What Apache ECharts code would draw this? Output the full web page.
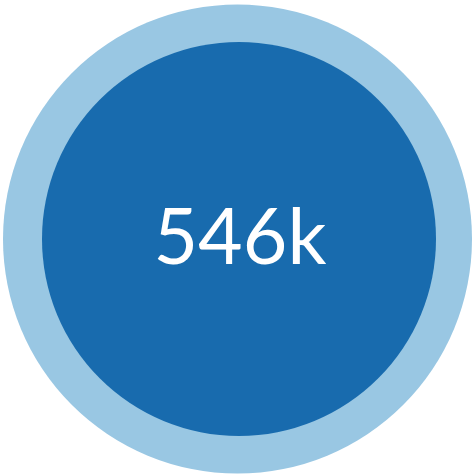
<!DOCTYPE html>
<html><head><meta charset="utf-8">
<script src="https://cdn.jsdelivr.net/npm/echarts@6/dist/echarts.min.js"></script>
<style>html,body{margin:0;padding:0;background:#fff;}#c{width:473px;height:476px;}</style>
</head><body><div id="c"></div>
<script>
const categories = ['Total'];
const values = [546000];
const labels = ['546k'];

const chart = echarts.init(document.getElementById('c'), null, {renderer: 'canvas'});
chart.setOption({
  animation: false,
  series: [
    {
      type: 'pie', silent: true,
      center: [237.5, 239], radius: [0, 234.5],
      label: {show: false}, labelLine: {show: false},
      itemStyle: {color: '#99C7E3'},
      data: categories.map((c, i) => ({name: c, value: values[i]}))
    },
    {
      type: 'pie', silent: true,
      center: [239, 239], radius: [0, 197],
      labelLine: {show: false},
      itemStyle: {color: '#186BAE'},
      label: {
        show: true, position: 'center',
        formatter: (p) => labels[p.dataIndex],
        color: '#ffffff', fontFamily: 'Lato', fontSize: 77, fontWeight: 'normal',
        padding: [9, 0, 0, 2]
      },
      data: categories.map((c, i) => ({name: c, value: values[i]}))
    }
  ]
});
</script></body></html>
